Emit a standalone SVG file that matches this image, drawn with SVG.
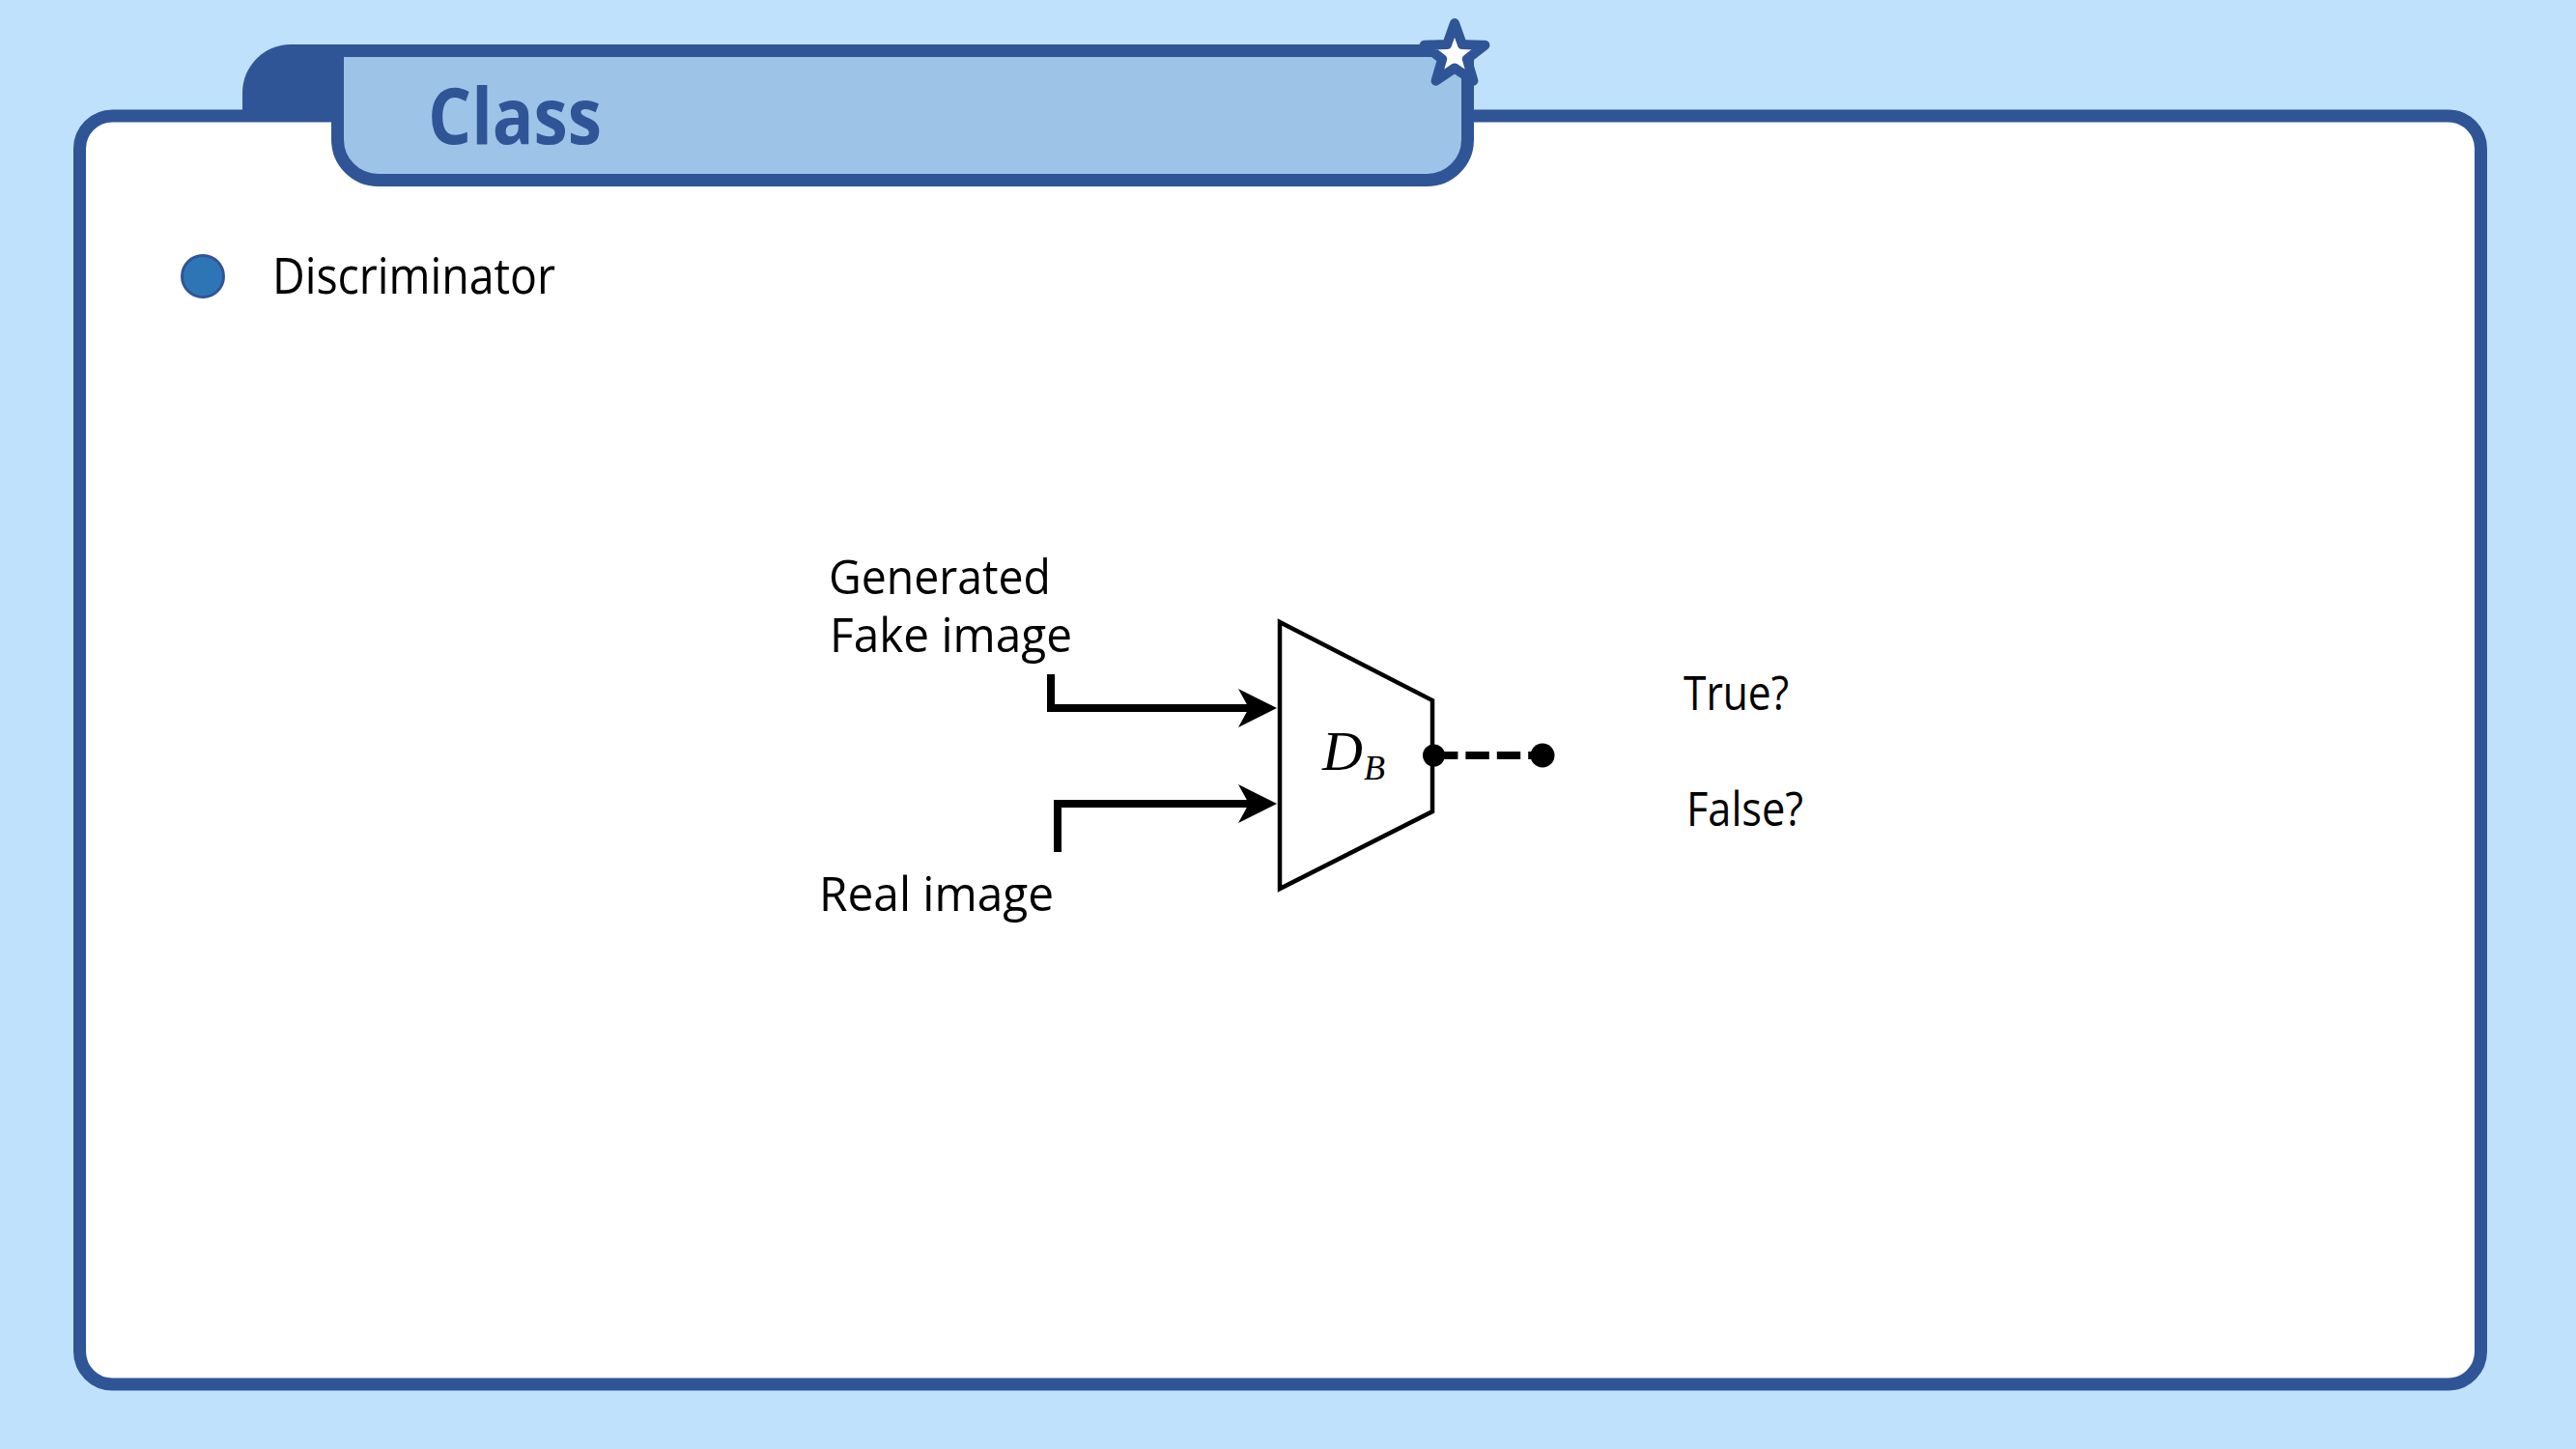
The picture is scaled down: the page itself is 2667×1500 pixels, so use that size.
<svg xmlns="http://www.w3.org/2000/svg" width="2667" height="1500" viewBox="0 0 2667 1500">
  <defs>
    <style>
      .dark { fill: #2F5597; }
      .lbl { font-family: "Open Sans", "Noto Sans", "Liberation Sans", sans-serif; font-size: 50px; fill: #000000; }
      .conn { fill: none; stroke: #000000; stroke-width: 8; stroke-linejoin: miter; stroke-linecap: butt; }
      .math { font-family: "Liberation Serif", "DejaVu Serif", serif; font-style: italic; fill: #000000; }
    </style>
    <marker id="arrow" markerUnits="userSpaceOnUse" markerWidth="42" markerHeight="42" refX="28" refY="20" orient="auto" viewBox="0 0 42 42">
      <path d="M0,0 L40,20 L0,40 L11,20 Z" fill="#000000"/>
    </marker>
  </defs>

  <rect x="0" y="0" width="2667" height="1500" fill="#BFE1FB"/>

  <g id="panel">
    <rect x="82.5" y="120" width="2486" height="1313" rx="34" ry="34" fill="#FFFFFF" stroke="#2F5597" stroke-width="13"/>
  </g>

  <g id="title-tab">
    <path class="dark" d="M251,124 L251,96 A50,50 0 0 1 301,46 L700,46 L700,124 Z"/>
    <path d="M349.5,52.5 L1519.5,52.5 L1519.5,144.5 A42,42 0 0 1 1477.5,186.5 L391.5,186.5 A42,42 0 0 1 349.5,144.5 Z" fill="#9DC3E6" stroke="#2F5597" stroke-width="13" stroke-linejoin="round"/>
    <text x="443" y="149" font-family="'Open Sans', 'Liberation Sans', sans-serif" font-weight="bold" font-size="80" fill="#2F5597" textLength="180" lengthAdjust="spacingAndGlyphs">Class</text>
    <polygon points="1506,24 1513.9,46.1 1537.4,46.8 1518.8,61.2 1525.4,83.7 1506,70.5 1486.6,83.7 1493.2,61.2 1474.6,46.8 1498.1,46.1" fill="#FFFFFF" stroke="#2F5597" stroke-width="10" stroke-linejoin="round"/>
  </g>

  <g id="bullet-discriminator">
    <circle cx="210" cy="286" r="21.5" fill="#2E75B6" stroke="#2F5597" stroke-width="3"/>
    <text x="282" y="304" font-family="'Open Sans', 'Noto Sans', 'Liberation Sans', sans-serif" font-size="51" fill="#000000" textLength="293" lengthAdjust="spacingAndGlyphs">Discriminator</text>
  </g>

  <g id="label-fake">
    <text class="lbl"><tspan x="858" y="615" textLength="230" lengthAdjust="spacingAndGlyphs">Generated</tspan><tspan x="859" y="675" textLength="251" lengthAdjust="spacingAndGlyphs">Fake image</tspan></text>
  </g>

  <g id="label-real">
    <text class="lbl" x="848" y="943" textLength="243" lengthAdjust="spacingAndGlyphs">Real image</text>
  </g>

  <g id="discriminator-DB">
    <polygon points="1325,644 1483,725 1483,840 1325,920" fill="#FFFFFF" stroke="#000000" stroke-width="4.5" stroke-linejoin="miter"/>
    <text class="math" x="1369" y="797" font-size="58">D<tspan dx="1" dy="10" font-size="36">B</tspan></text>
  </g>

  <g id="label-true">
    <text class="lbl" x="1743" y="735" textLength="109" lengthAdjust="spacingAndGlyphs">True?</text>
  </g>

  <g id="label-false">
    <text class="lbl" x="1746" y="855" textLength="121" lengthAdjust="spacingAndGlyphs">False?</text>
  </g>

  <g id="connectors">
    <path class="conn" d="M1088,698 V733 H1310" marker-end="url(#arrow)"/>
    <path class="conn" d="M1095,882 V832 H1310" marker-end="url(#arrow)"/>
    <line x1="1485" y1="782" x2="1597" y2="782" stroke="#000000" stroke-width="8" stroke-dasharray="24.4 8"/>
    <circle cx="1484.5" cy="782" r="11.5" fill="#000000"/>
    <circle cx="1597" cy="782" r="12.5" fill="#000000"/>
  </g>
</svg>
